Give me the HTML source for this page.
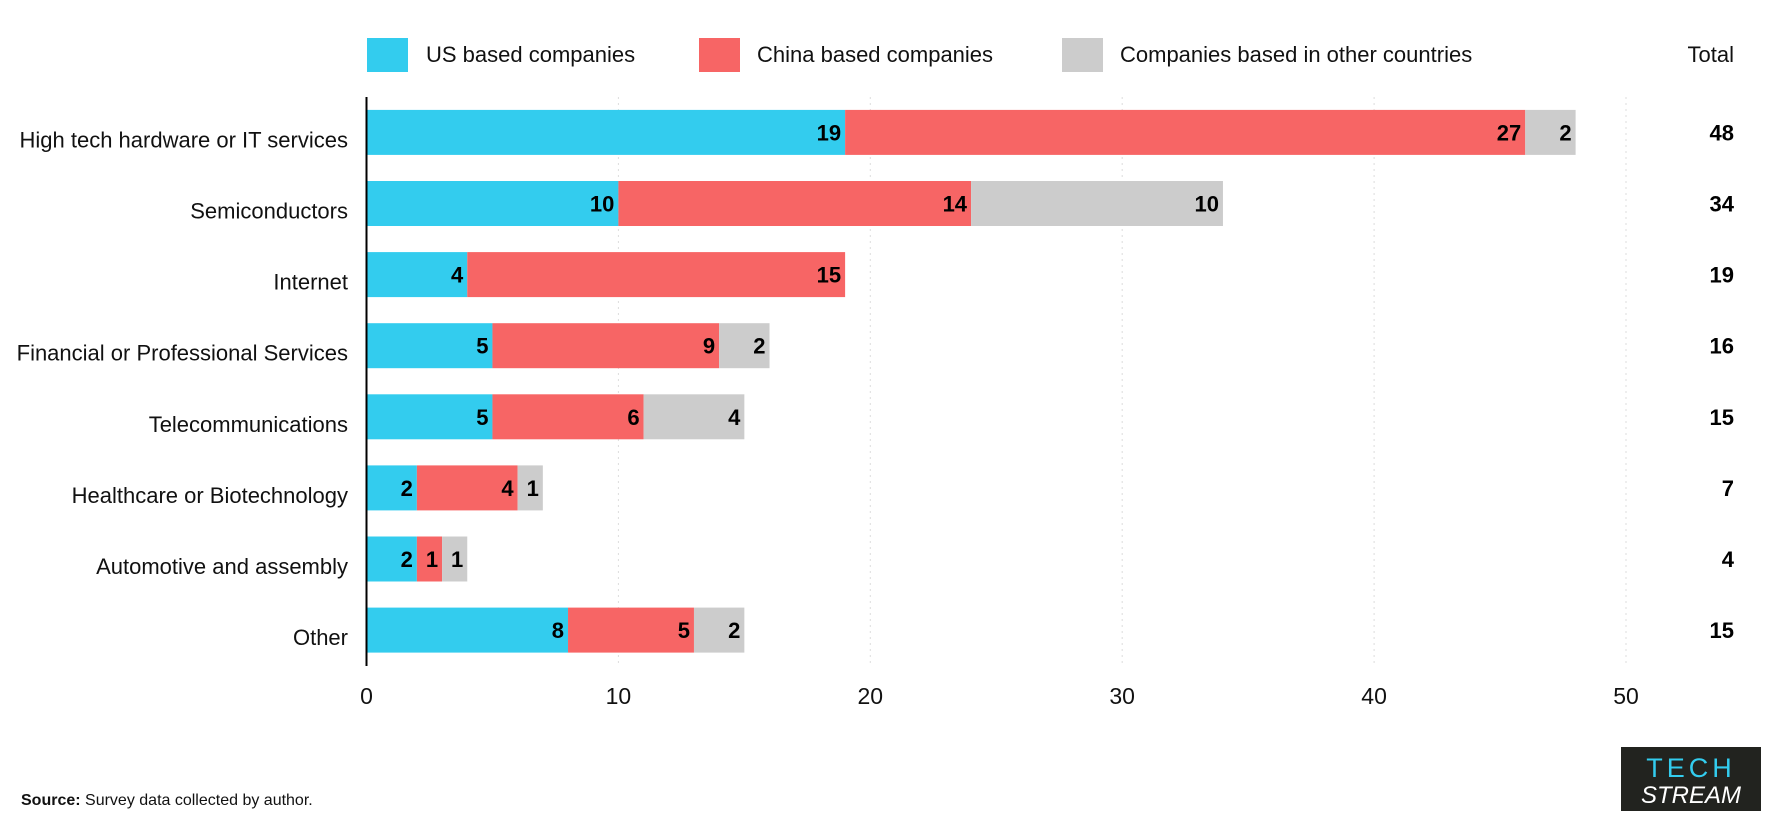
<!DOCTYPE html>
<html><head><meta charset="utf-8"><style>
body{margin:0;background:#fff;}
svg text{font-family:"Liberation Sans Narrow","Liberation Sans",sans-serif;}
</style></head><body>
<svg id="chart" width="1781" height="833" xmlns="http://www.w3.org/2000/svg">
<g id="legend">
<rect x="367" y="38" width="41" height="34" fill="#33ccee"/>
<text x="426" y="62" font-size="22" fill="#111">US based companies</text>
<rect x="699" y="38" width="41" height="34" fill="#f76565"/>
<text x="757" y="62" font-size="22" fill="#111">China based companies</text>
<rect x="1062" y="38" width="41" height="34" fill="#cccccc"/>
<text x="1120" y="62" font-size="22" fill="#111">Companies based in other countries</text>
<text x="1734" y="62" font-size="22" fill="#111" text-anchor="end">Total</text>
</g>
<g id="grid"></g>
<g id="bars"></g>
<g id="labels"></g>
<line x1="366.5" y1="97" x2="366.5" y2="666" stroke="#000" stroke-width="2"/>
<text x="21" y="805" font-size="16" fill="#111"><tspan font-weight="bold">Source:</tspan> Survey data collected by author.</text>
<g>
<rect x="1621" y="747" width="140" height="64" fill="#22231f"/>
<text x="1691" y="777" font-size="27" fill="#33ccee" text-anchor="middle" letter-spacing="4">TECH</text>
<text x="1691" y="803" font-size="24" fill="#fff" text-anchor="middle" font-style="italic">STREAM</text>
</g>
</svg>
<script>
const categories=["High tech hardware or IT services","Semiconductors","Internet","Financial or Professional Services","Telecommunications","Healthcare or Biotechnology","Automotive and assembly","Other"];
const usValues=[19,10,4,5,5,2,2,8];
const chinaValues=[27,14,15,9,6,4,1,5];
const otherValues=[2,10,0,2,4,1,1,2];
const tickValues=[0,10,20,30,40,50];
const NS="http://www.w3.org/2000/svg";
const x0=366.5,unit=25.19,rowTop=132.4,rowStep=71.1,barH=45;
function xs(v){return x0+v*unit;}
function ys(i){return rowTop+i*rowStep;}
function mk(tag,attrs,parent){const e=document.createElementNS(NS,tag);for(const k in attrs)e.setAttribute(k,attrs[k]);parent.appendChild(e);return e;}
const grid=document.getElementById('grid'),bars=document.getElementById('bars'),labels=document.getElementById('labels');
tickValues.forEach(t=>{
  if(t>0){const l=mk('line',{x1:xs(t),x2:xs(t),y1:97,y2:666,stroke:'#ddd','stroke-dasharray':'2,4'},grid);
  
  }
  const tx=mk('text',{x:xs(t),y:704,'font-size':23,'text-anchor':'middle',fill:'#111'},grid);tx.textContent=t;
  
  
});
const series=[[usValues,'#33ccee','us'],[chinaValues,'#f76565','china'],[otherValues,'#cccccc','other']];
categories.forEach((c,i)=>{
  const cy=ys(i);
  const cl=mk('text',{x:348,y:cy+15,'font-size':22,'text-anchor':'end',fill:'#111'},labels);cl.textContent=c;
  
  
  let acc=0;
  series.forEach(([vals,col,key])=>{
    const v=vals[i];if(!v)return;
    const r=mk('rect',{x:xs(acc),y:cy-barH/2,width:v*unit,height:barH,fill:col},bars);
    
    
    acc+=v;
    const t=mk('text',{x:xs(acc)-4,y:cy+8,'font-size':22,'font-weight':'bold','text-anchor':'end',fill:'#000'},labels);t.textContent=v;
    
    
  });
  const tot=mk('text',{x:1734,y:cy+8,'font-size':22,'font-weight':'bold','text-anchor':'end',fill:'#000'},labels);
  tot.textContent=usValues[i]+chinaValues[i]+otherValues[i];
  
  
});
</script>
</body></html>
